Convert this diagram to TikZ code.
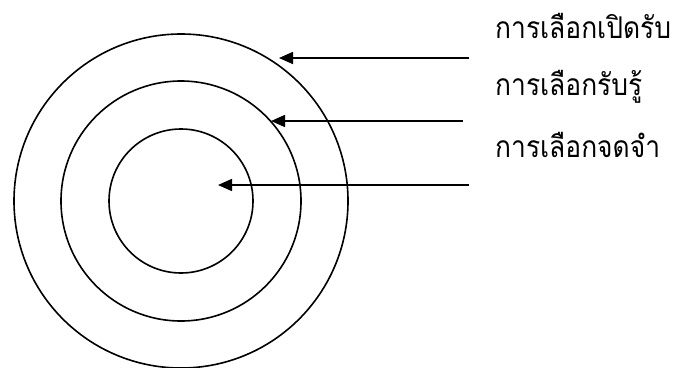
\documentclass[tikz,border=0pt]{standalone}
\usepackage{fontspec}
\newfontfamily\thaifont[Script=Thai,FakeStretch=0.88]{Loma}
\usetikzlibrary{arrows.meta}
\begin{document}
\begin{tikzpicture}[x=1pt,y=-1pt,
  ring/.style={draw=black,line width=1.6pt,circle,inner sep=0pt},
  pointer/.style={line width=1.6pt,-{Triangle[length=14pt,width=12pt]}},
  label/.style={anchor=base west,inner sep=0pt,font=\thaifont\fontsize{30}{34}\selectfont}]
\useasboundingbox (0,0) rectangle (676,367);
\coordinate (c) at (181,201);
\node[ring,minimum size=334pt] (outer) at (c) {};
\node[ring,minimum size=240pt] (middle) at (c) {};
\node[ring,minimum size=144pt] (inner) at (c) {};
\coordinate (s1) at (469,58);
\coordinate (t1) at (279,58);
\coordinate (s2) at (463,121);
\coordinate (t2) at (271,121);
\coordinate (s3) at (469,185);
\coordinate (t3) at (218,185);
\draw[pointer] (s1) -- (t1);
\draw[pointer] (s2) -- (t2);
\draw[pointer] (s3) -- (t3);
\node[label] (l1) at (495,38) {การเลือกเปิดรับ};
\node[label] (l2) at (495,95) {การเลือกรับรู้};
\node[label] (l3) at (495,157) {การเลือกจดจำ};
\end{tikzpicture}
\end{document}
